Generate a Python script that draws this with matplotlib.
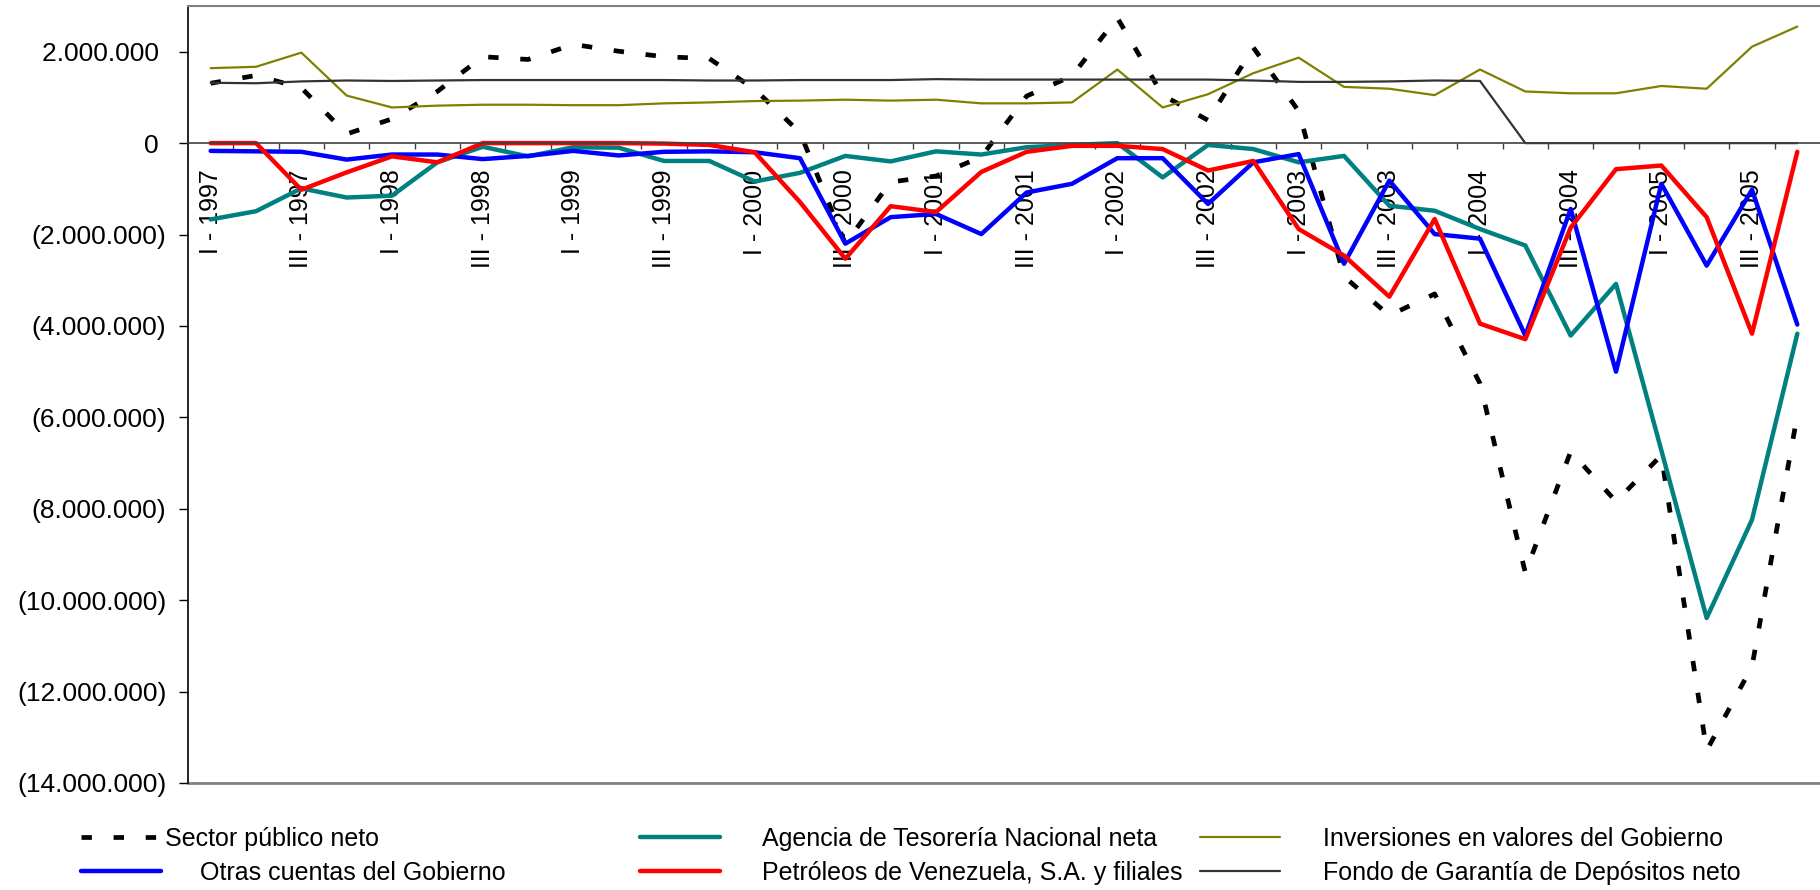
import numpy as np
import matplotlib
matplotlib.use("Agg")
import matplotlib.pyplot as plt
from matplotlib.ticker import FuncFormatter

plt.rcParams['font.family'] = ['Liberation Sans', 'DejaVu Sans']

# quarters 1997-I .. 2005-IV
years = list(range(1997, 2006))
quarters = ["I", "II", "III", "IV"]
periods = [f"{q} - {y}" for y in years for q in quarters]

# values in millions of bolivares
sector_publico = [1.31, 1.48, 1.21, 0.20, 0.53, 1.13, 1.89, 1.83, 2.16, 2.01,
                  1.89, 1.85, 1.18, 0.23, -2.20, -0.85, -0.72, -0.30, 1.03, 1.47,
                  2.74, 1.05, 0.50, 2.09, 0.70, -2.92, -3.77, -3.30, -5.26, -9.40,
                  -6.75, -7.84, -6.83, -13.29, -11.45, -5.95]
agencia = [-1.67, -1.49, -0.99, -1.19, -1.15, -0.42, -0.08, -0.29, -0.09, -0.10,
           -0.39, -0.39, -0.84, -0.65, -0.28, -0.40, -0.18, -0.25, -0.09, -0.04,
           0.00, -0.75, -0.04, -0.13, -0.42, -0.28, -1.37, -1.48, -1.88, -2.24,
           -4.21, -3.08, -6.72, -10.39, -8.24, -4.17]
inversiones = [1.64, 1.67, 1.98, 1.04, 0.78, 0.82, 0.84, 0.84, 0.83, 0.83,
               0.87, 0.89, 0.92, 0.93, 0.95, 0.93, 0.95, 0.87, 0.87, 0.89,
               1.61, 0.78, 1.07, 1.53, 1.87, 1.23, 1.19, 1.05, 1.61, 1.13,
               1.09, 1.09, 1.25, 1.19, 2.11, 2.55]
otras = [-0.17, -0.18, -0.19, -0.36, -0.25, -0.25, -0.35, -0.28, -0.17, -0.27,
         -0.19, -0.18, -0.20, -0.33, -2.20, -1.62, -1.55, -1.99, -1.08, -0.89,
         -0.33, -0.33, -1.33, -0.42, -0.24, -2.64, -0.82, -1.99, -2.09, -4.21,
         -1.44, -5.00, -0.89, -2.68, -1.02, -3.97]
petroleos = [0.00, 0.00, -1.02, -0.64, -0.29, -0.42, 0.00, 0.00, 0.00, 0.00,
             -0.01, -0.04, -0.20, -1.29, -2.53, -1.38, -1.51, -0.63, -0.19, -0.06,
             -0.06, -0.13, -0.60, -0.39, -1.88, -2.46, -3.36, -1.66, -3.95, -4.29,
             -1.85, -0.57, -0.49, -1.62, -4.17, -0.19]
fondo = [1.32, 1.31, 1.35, 1.37, 1.36, 1.37, 1.38, 1.38, 1.38, 1.38,
         1.38, 1.37, 1.37, 1.38, 1.38, 1.38, 1.40, 1.39, 1.39, 1.39,
         1.39, 1.39, 1.39, 1.37, 1.34, 1.34, 1.35, 1.37, 1.36, 0.00,
         0.00, 0.00, 0.00, 0.00, 0.00, 0.00]

y_limits = (-14e6, 3e6)

x = np.arange(len(periods))
M = 1e6

fig = plt.figure(figsize=(18.2, 8.9), dpi=100)
ax = fig.add_axes([188 / 1820, 1 - 783 / 890, 1 - 188 / 1820, 777 / 890])

series = [
    ("Sector público neto", sector_publico, dict(color="black", lw=3.4, dashes=(2.2, 4.6), dash_capstyle="butt")),
    ("Agencia de Tesorería Nacional neta", agencia, dict(color="#008080", lw=3.2)),
    ("Inversiones en valores del Gobierno", inversiones, dict(color="#808000", lw=1.6)),
    ("Otras cuentas del Gobierno", otras, dict(color="#0000FF", lw=3.2)),
    ("Petróleos de Venezuela, S.A. y filiales", petroleos, dict(color="#FF0000", lw=3.2)),
    ("Fondo de Garantía de Depósitos neto", fondo, dict(color="#333333", lw=1.6)),
]
handles = {}
for name, vals, st in series:
    ln, = ax.plot(x, np.array(vals) * M, label=name, solid_capstyle="round", **st)
    handles[name] = ln

ax.set_xlim(-0.5, len(periods) - 0.5)
ax.set_ylim(*y_limits)

# y axis
ax.set_yticks(np.arange(-14e6, 2e6 + 1, 2e6))
def fmt(v, pos):
    n = int(round(v))
    s = f"{abs(n):,}".replace(",", ".")
    return f"({s})" if n < 0 else s + " "
ax.yaxis.set_major_formatter(FuncFormatter(fmt))
ax.tick_params(axis="y", length=6.5, width=1, pad=9, labelsize=19, color="black")

# x axis crossing at zero
ax.spines["bottom"].set_position(("data", 0))
ax.spines["bottom"].set_color("#404040")
ax.spines["bottom"].set_linewidth(1.2)
ax.spines["right"].set_visible(False)
ax.spines["top"].set_color("#808080")
ax.spines["top"].set_linewidth(1.5)
ax.spines["left"].set_color("black")
ax.spines["left"].set_linewidth(1.2)
ax.axhline(y_limits[0], color="#808080", lw=2, clip_on=False)

ax.set_xticks(x[:-1] + 0.5)
ax.set_xticklabels([])
ax.tick_params(axis="x", which="major", length=4.5, width=1, color="#404040", direction="out")
ax.set_xticks(x[::2], [periods[i] for i in x[::2]], minor=True, rotation=90)
ax.tick_params(axis="x", which="minor", length=0, pad=19, labelsize=18)

# legend, 2 rows x 3 columns under the plot
legend_layout = [
    ("Sector público neto", 81, 839, 0.16),
    ("Otras cuentas del Gobierno", 81, 873, 1.56),
    ("Agencia de Tesorería Nacional neta", 640, 839, 1.68),
    ("Petróleos de Venezuela, S.A. y filiales", 640, 873, 1.68),
    ("Inversiones en valores del Gobierno", 1200, 839, 1.72),
    ("Fondo de Garantía de Depósitos neto", 1200, 873, 1.72),
]
for name, px, py, tp in legend_layout:
    fig.legend([handles[name]], [name], loc="center left",
               bbox_to_anchor=(px / 1820, 1 - py / 890), frameon=False,
               borderpad=0, borderaxespad=0, handlelength=3.2,
               handletextpad=tp, fontsize=18)

fig.savefig("out.png", dpi=100)
